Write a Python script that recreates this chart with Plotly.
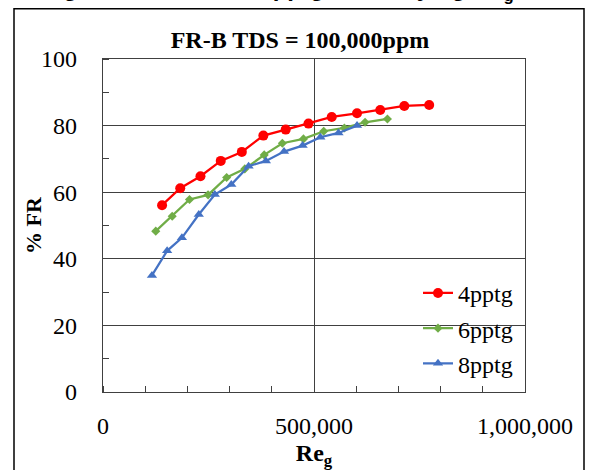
import plotly.graph_objects as go

# ---- data ----
re_4 = [140000, 183000, 231000, 279000, 329000, 380000, 433000, 487000, 542000, 602000, 657000, 714000, 773000]
fr_4 = [56.1, 61.2, 64.8, 69.4, 72.1, 77.0, 78.8, 80.6, 82.6, 83.7, 84.7, 85.9, 86.2]

re_6 = [125000, 164000, 205000, 249000, 293000, 336000, 382000, 425000, 475000, 523000, 572000, 621000, 674000]
fr_6 = [48.3, 52.8, 57.8, 59.2, 64.4, 67.0, 71.2, 74.7, 76.0, 78.3, 79.3, 81.0, 82.0]

re_8 = [116000, 152000, 187000, 227000, 265000, 304000, 345000, 386000, 429000, 473000, 515000, 558000, 602000]
fr_8 = [35.0, 42.4, 46.3, 53.3, 59.3, 62.3, 67.8, 69.4, 72.2, 74.0, 76.5, 77.8, 80.0]

series_names = ["4pptg", "6pptg", "8pptg"]
x_tickvals = [0, 500000, 1000000]
x_ticktext = ["0", "500,000", "1,000,000"]
y_tickvals = [0, 20, 40, 60, 80, 100]

title_text = "<b>FR-B TDS = 100,000ppm</b>"
x_title = "<b>Re<sub>g</sub></b>"
y_title = "<b>% FR</b>"
header_text = "<b>Figure 8: %FR at 4-8pptg and varying Re<sub>g</sub></b>"

# ---- layout geometry (pixels) ----
W, H = 590, 470
L, R, T, B = 103, 525, 58.5, 392.5
def px(xp):
    return (xp - L) / (R - L)
def py(yp):
    return (B - yp) / (B - T)

SERIF = "Liberation Serif"
GRID = "#404040"

fig = go.Figure()
styles = [
    dict(color="#FF0000", symbol="circle", size=10),
    dict(color="#70AD47", symbol="diamond", size=7),
    dict(color="#4472C4", symbol="triangle-up", size=9),
]
for name, xs, ys, st in zip(series_names, [re_4, re_6, re_8], [fr_4, fr_6, fr_8], styles):
    fig.add_trace(go.Scatter(
        x=xs, y=ys, name=name, mode="lines+markers",
        line=dict(color=st["color"], width=2.25),
        marker=dict(color=st["color"], symbol=st["symbol"], size=st["size"]),
        legendgroup=name,
    ))

fig.update_layout(
    width=W, height=H,
    margin=dict(l=L, r=W - R, t=T, b=H - B, autoexpand=False),
    paper_bgcolor="white", plot_bgcolor="white",
    font=dict(family=SERIF, size=24, color="black"),
    title=dict(text=title_text, x=300 / W, xanchor="center", xref="container",
               y=1 - 40 / H, yanchor="middle", font=dict(family=SERIF, size=24, color="black")),
    showlegend=True,
    legend=dict(x=px(418), y=py(271), xanchor="left", yanchor="top",
                bgcolor="rgba(0,0,0,0)", font=dict(family=SERIF, size=24, color="black"),
                tracegroupgap=1, itemwidth=30),
    xaxis=dict(range=[0, 1000000], tickmode="array", tickvals=x_tickvals, ticktext=x_ticktext,
               showgrid=True, gridcolor=GRID, gridwidth=1.3, zeroline=False,
               showline=True, linecolor=GRID, linewidth=1.3, mirror=True,
               ticks="", ticklabelstandoff=12, tickfont=dict(family=SERIF, size=24),
               minor=dict(dtick=100000, tick0=0, ticks="inside", ticklen=6, tickcolor=GRID, tickwidth=1.2, showgrid=False),
               title=dict(text=x_title, standoff=6, font=dict(family=SERIF, size=24, color="black"))),
    yaxis=dict(range=[0, 100], tickmode="array", tickvals=y_tickvals,
               showgrid=True, gridcolor=GRID, gridwidth=1.3, zeroline=False,
               showline=True, linecolor=GRID, linewidth=1.3, mirror=True,
               ticks="", ticklabelstandoff=20, tickfont=dict(family=SERIF, size=24),
               minor=dict(dtick=10, tick0=0, ticks="inside", ticklen=6, tickcolor=GRID, tickwidth=1.2, showgrid=False)),
    shapes=[dict(type="rect", xref="paper", yref="paper",
                 x0=px(14), x1=px(584), y0=py(8), y1=py(520),
                 line=dict(color="black", width=1.5), fillcolor="rgba(0,0,0,0)", layer="above")],
    annotations=[
        dict(text=header_text, xref="paper", yref="paper", x=px(40), y=py(6.8),
             xanchor="left", yanchor="bottom", showarrow=False,
             font=dict(family="Liberation Sans", size=24, color="black")),
        dict(text=y_title, xref="paper", yref="paper", x=px(33), y=py(225),
             xanchor="center", yanchor="middle", textangle=-90, showarrow=False,
             font=dict(family=SERIF, size=22, color="black")),
    ],
)

fig.write_html("out.html")
